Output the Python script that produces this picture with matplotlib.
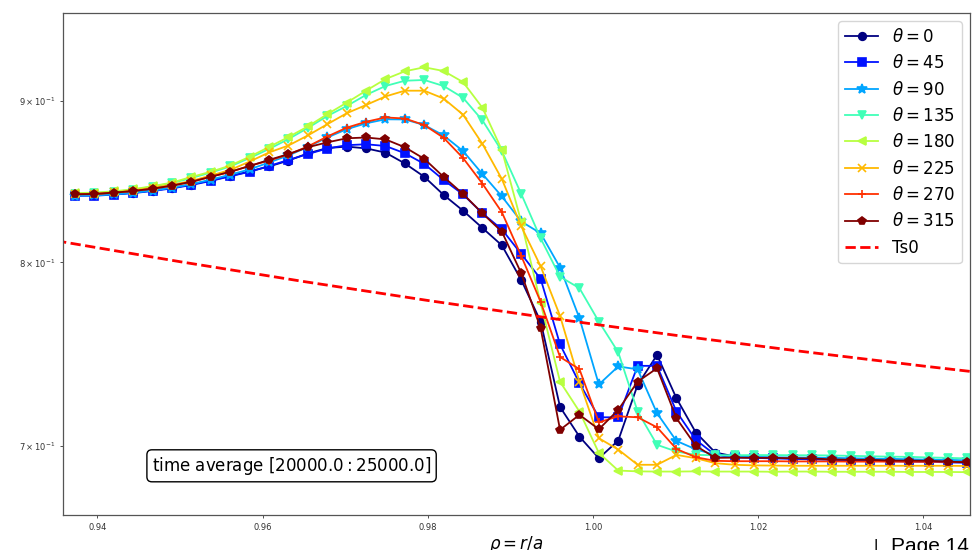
import numpy as np
import matplotlib
matplotlib.use("Agg")
import matplotlib.pyplot as plt

# radial grid (uniform, 47 points)
rho = np.linspace(0.93730, 1.04535, 47)

theta_labels = ["0", "45", "90", "135", "180", "225", "270", "315"]
markers = ["o", "s", "*", "v", "<", "x", "+", "p"]

T_0 = [0.8400, 0.8404, 0.8407, 0.8417, 0.8430, 0.8446, 0.8467, 0.8492, 0.8520, 0.8548,
       0.8579, 0.8616, 0.8661, 0.8695, 0.8704, 0.8693, 0.8666, 0.8598, 0.8515, 0.8403,
       0.8307, 0.8203, 0.8100, 0.7898, 0.7662, 0.7200, 0.7046, 0.6936, 0.7026, 0.7317,
       0.7478, 0.7246, 0.7067, 0.6965, 0.6945, 0.6940, 0.6938, 0.6935, 0.6933, 0.6930,
       0.6929, 0.6928, 0.6926, 0.6924, 0.6923, 0.6920, 0.6918]
T_45 = [0.8397, 0.8398, 0.8405, 0.8414, 0.8427, 0.8443, 0.8464, 0.8489, 0.8518, 0.8546,
        0.8582, 0.8620, 0.8657, 0.8692, 0.8713, 0.8719, 0.8708, 0.8662, 0.8595, 0.8495,
        0.8406, 0.8291, 0.8195, 0.8049, 0.7904, 0.7536, 0.7326, 0.7146, 0.7146, 0.7419,
        0.7419, 0.7176, 0.7029, 0.6953, 0.6940, 0.6938, 0.6935, 0.6933, 0.6930, 0.6928,
        0.6925, 0.6923, 0.6921, 0.6919, 0.6918, 0.6915, 0.6913]
T_90 = [0.8398, 0.8400, 0.8406, 0.8416, 0.8430, 0.8447, 0.8470, 0.8497, 0.8528, 0.8561,
        0.8604, 0.8648, 0.8702, 0.8762, 0.8815, 0.8853, 0.8879, 0.8878, 0.8842, 0.8775,
        0.8676, 0.8532, 0.8394, 0.8242, 0.8171, 0.7970, 0.7681, 0.7319, 0.7416, 0.7400,
        0.7167, 0.7024, 0.6981, 0.6953, 0.6945, 0.6943, 0.6941, 0.6940, 0.6939, 0.6938,
        0.6936, 0.6934, 0.6933, 0.6931, 0.6929, 0.6928, 0.6925]
T_135 = [0.8411, 0.8414, 0.8422, 0.8435, 0.8454, 0.8476, 0.8507, 0.8541, 0.8579, 0.8632,
         0.8689, 0.8752, 0.8823, 0.8900, 0.8965, 0.9038, 0.9097, 0.9132, 0.9137, 0.9097,
         0.9019, 0.8872, 0.8676, 0.8409, 0.8141, 0.7917, 0.7851, 0.7662, 0.7493, 0.7176,
         0.7004, 0.6970, 0.6953, 0.6951, 0.6951, 0.6952, 0.6952, 0.6951, 0.6951, 0.6950,
         0.6948, 0.6946, 0.6944, 0.6943, 0.6940, 0.6938, 0.6935]
T_180 = [0.8414, 0.8417, 0.8425, 0.8438, 0.8457, 0.8479, 0.8514, 0.8546, 0.8585, 0.8640,
         0.8702, 0.8765, 0.8833, 0.8912, 0.8987, 0.9066, 0.9143, 0.9195, 0.9222, 0.9197,
         0.9123, 0.8954, 0.8683, 0.8239, 0.7765, 0.7334, 0.7176, 0.6963, 0.6874, 0.6870,
         0.6869, 0.6869, 0.6870, 0.6869, 0.6869, 0.6869, 0.6868, 0.6869, 0.6869, 0.6868,
         0.6868, 0.6868, 0.6868, 0.6867, 0.6867, 0.6867, 0.6866]
T_225 = [0.8408, 0.8410, 0.8418, 0.8430, 0.8447, 0.8466, 0.8489, 0.8523, 0.8557, 0.8610,
         0.8667, 0.8711, 0.8775, 0.8847, 0.8918, 0.8972, 0.9028, 0.9066, 0.9066, 0.9014,
         0.8909, 0.8721, 0.8501, 0.8213, 0.7977, 0.7694, 0.7334, 0.7038, 0.6980, 0.6903,
         0.6903, 0.6953, 0.6936, 0.6911, 0.6903, 0.6900, 0.6899, 0.6898, 0.6898, 0.6898,
         0.6898, 0.6898, 0.6898, 0.6898, 0.6898, 0.6898, 0.6897]
T_270 = [0.8406, 0.8408, 0.8416, 0.8427, 0.8442, 0.8460, 0.8483, 0.8515, 0.8545, 0.8583,
         0.8616, 0.8654, 0.8705, 0.8768, 0.8825, 0.8863, 0.8891, 0.8884, 0.8842, 0.8760,
         0.8632, 0.8472, 0.8298, 0.8038, 0.7773, 0.7467, 0.7401, 0.7120, 0.7151, 0.7146,
         0.7094, 0.6983, 0.6941, 0.6923, 0.6921, 0.6921, 0.6921, 0.6920, 0.6920, 0.6920,
         0.6919, 0.6919, 0.6919, 0.6918, 0.6918, 0.6918, 0.6916]
T_315 = [0.8407, 0.8409, 0.8417, 0.8427, 0.8441, 0.8460, 0.8484, 0.8515, 0.8546, 0.8582,
         0.8620, 0.8657, 0.8700, 0.8731, 0.8757, 0.8762, 0.8750, 0.8700, 0.8627, 0.8514,
         0.8409, 0.8291, 0.8181, 0.7937, 0.7625, 0.7081, 0.7159, 0.7084, 0.7185, 0.7334,
         0.7406, 0.7141, 0.6999, 0.6938, 0.6939, 0.6938, 0.6938, 0.6936, 0.6935, 0.6930,
         0.6928, 0.6928, 0.6924, 0.6924, 0.6923, 0.6919, 0.6915]

series = [T_0, T_45, T_90, T_135, T_180, T_225, T_270, T_315]

# initial profile Ts0
ts0_rho = [0.935, 0.950, 0.965, 0.980, 0.995, 1.010, 1.025, 1.040, 1.050]
ts0 = [0.8127, 0.8004, 0.7889, 0.7781, 0.7680, 0.7586, 0.7499, 0.7418, 0.7367]

W, H = 972, 550
fig = plt.figure(figsize=(W / 100, H / 100), dpi=100)
ax = fig.add_axes([63 / W, 35 / H, 907 / W, 502 / H])

cmap = plt.cm.jet
for k, (lab, mk, vals) in enumerate(zip(theta_labels, markers, series)):
    col = cmap(k / 7)
    ms = 7 if mk == "*" else 5.5
    ax.plot(rho, vals, marker=mk, color=col, lw=1.3, ms=ms, mew=1.2,
            label=r"$\theta = %s$" % lab)

ax.plot(ts0_rho, ts0, "--", color="red", lw=2, label="Ts0")

ax.set_yscale("log")
ax.set_xlim(0.93584, 1.04566)
ax.set_ylim(0.6655, 0.9594)

ax.tick_params(axis="both", which="both", labelsize=6, length=2.5, width=0.6,
               pad=3, colors="#333333")
for sp in ax.spines.values():
    sp.set_color("#555555")
    sp.set_linewidth(0.9)

ax.set_xlabel(r"$\rho = r/a$", fontsize=12, labelpad=2)

ax.legend(loc="upper right", fontsize=12)

ax.text(0.252, 0.098, r"time average $[20000.0:25000.0]$", transform=ax.transAxes,
        ha="center", va="center", fontsize=12,
        bbox=dict(boxstyle="round,pad=0.3", fc="white", ec="black", lw=1))

fig.text(876 / W, -1.5 / H, "|", fontsize=12, family="Liberation Sans",
         ha="center", va="baseline")
fig.text(891 / W, -1.5 / H, "Page 14", fontsize=15, family="Liberation Sans",
         ha="left", va="baseline")

fig.savefig("out.png", dpi=100)
